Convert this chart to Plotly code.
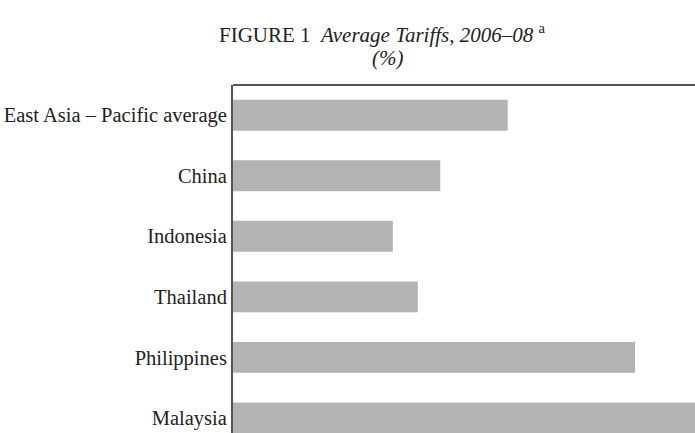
import plotly.graph_objects as go

categories = ["East Asia – Pacific average", "China", "Indonesia", "Thailand", "Philippines", "Malaysia"]
tariffs = [11.0, 8.3, 6.4, 7.4, 16.1, 19.5]

W, H = 695, 433
L, T = 233, 85

fig = go.Figure(go.Bar(
    y=categories, x=tariffs, orientation="h",
    marker=dict(color="#b3b3b3", line=dict(width=0)),
    width=0.51,
))

font = "Liberation Serif, Times New Roman, serif"
fig.update_layout(
    width=W, height=H,
    margin=dict(l=L, r=0, t=T, b=0),
    plot_bgcolor="white", paper_bgcolor="white",
    showlegend=False,
    font=dict(family=font, size=20, color="#222"),
    xaxis=dict(range=[0, 18.5], showgrid=False, zeroline=False, showline=False,
               showticklabels=False, ticks=""),
    yaxis=dict(range=[5.25, -0.5], showgrid=False, zeroline=False, showline=True,
               linecolor="#555", linewidth=2, ticks="", ticklabelstandoff=0,
               tickfont=dict(family=font, size=20.5, color="#222")),
    shapes=[dict(type="line", xref="paper", yref="paper", x0=0, x1=1, y0=1, y1=1,
                 line=dict(color="#555", width=2))],
    annotations=[
        dict(xref="paper", yref="paper", x=(382 - L) / (W - L), y=1 + (T - 33) / (H - T),
             xanchor="center", yanchor="middle", showarrow=False,
             text="FIGURE 1  <i>Average Tariffs, 2006–08</i> <sup>a</sup>",
             font=dict(family=font, size=21, color="#222")),
        dict(xref="paper", yref="paper", x=(387 - L) / (W - L), y=1 + (T - 58) / (H - T),
             xanchor="center", yanchor="middle", showarrow=False,
             text="<i>(%)</i>", font=dict(family=font, size=21, color="#222")),
    ],
)

fig.write_html("out.html")
